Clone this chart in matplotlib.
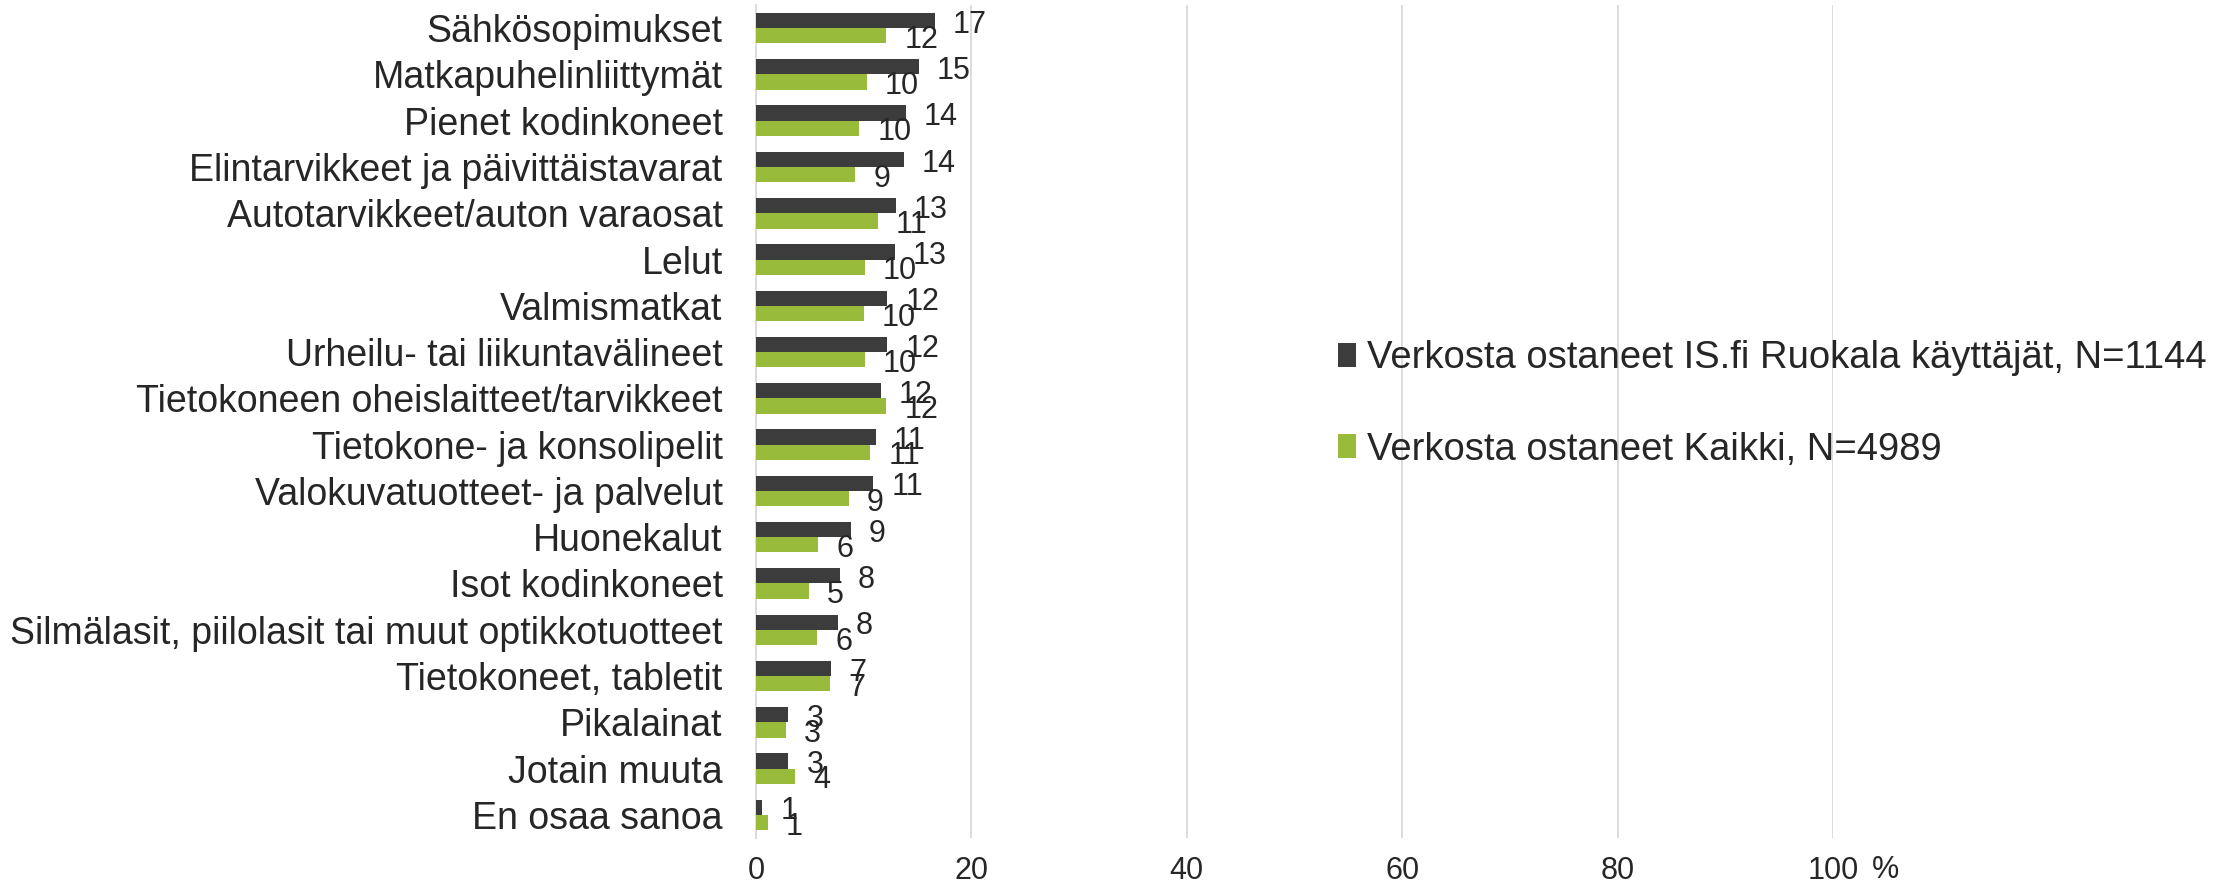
import numpy as np
import matplotlib.pyplot as plt

plt.rcParams['font.family'] = ['Liberation Sans', 'DejaVu Sans']

# Categories and shares (%)
categories = [
    "Sähkösopimukset", "Matkapuhelinliittymät", "Pienet kodinkoneet",
    "Elintarvikkeet ja päivittäistavarat", "Autotarvikkeet/auton varaosat",
    "Lelut", "Valmismatkat", "Urheilu- tai liikuntavälineet",
    "Tietokoneen oheislaitteet/tarvikkeet", "Tietokone- ja konsolipelit",
    "Valokuvatuotteet- ja palvelut", "Huonekalut", "Isot kodinkoneet",
    "Silmälasit, piilolasit tai muut optikkotuotteet", "Tietokoneet, tabletit",
    "Pikalainat", "Jotain muuta", "En osaa sanoa",
]
ruokala = [16.6, 15.1, 13.9, 13.7, 13.0, 12.9, 12.2, 12.2, 11.6, 11.1,
           10.9, 8.8, 7.8, 7.6, 7.0, 3.0, 3.0, 0.6]
kaikki = [12.1, 10.3, 9.6, 9.2, 11.3, 10.1, 10.0, 10.1, 12.1, 10.6,
          8.6, 5.8, 4.9, 5.7, 6.9, 2.8, 3.6, 1.1]
series_names = ["Verkosta ostaneet IS.fi Ruokala käyttäjät, N=1144",
                "Verkosta ostaneet Kaikki, N=4989"]
xticks = [0, 20, 40, 60, 80, 100]

dark = '#3c3c3c'
green = '#99bb3b'
text_col = '#262626'

fig = plt.figure(figsize=(22.19, 8.92), dpi=100)
ax = fig.add_axes([0.3407, 0.0605, 0.826 - 0.3407, 0.9339])

y = np.arange(len(categories))
h = 0.33
b1 = ax.barh(y - h / 2, ruokala, height=h, color=dark, label=series_names[0], zorder=3)
b2 = ax.barh(y + h / 2, kaikki, height=h, color=green, label=series_names[1], zorder=3)

# value labels just outside the bar ends
for bars, vals in [(b1, ruokala), (b2, kaikki)]:
    for bar, v in zip(bars, vals):
        ax.annotate(f"{v:.0f}", (v, bar.get_y() + bar.get_height() / 2),
                    xytext=(13, -3), textcoords='offset points',
                    ha='left', va='center', fontsize=22, color=text_col, zorder=4)

ax.set_xlim(0, 100)
ax.set_ylim(len(categories) - 0.5, -0.5)
ax.set_xticks(xticks)
ax.set_xticklabels([str(t) for t in xticks])
ax.set_yticks(y)
ax.set_yticklabels(categories, fontsize=27)
ax.tick_params(axis='both', length=0, labelcolor=text_col)
ax.tick_params(axis='x', labelsize=22, pad=13)
ax.tick_params(axis='y', pad=24)
ax.annotate("%", (100, 0), xycoords=ax.get_xaxis_transform(),
            xytext=(28, -23), textcoords='offset points',
            ha='left', va='center', fontsize=22, color=text_col)

ax.grid(axis='x', color='#d9d9d9', linewidth=1.3, zorder=0)
for s in ['top', 'right', 'bottom']:
    ax.spines[s].set_visible(False)
ax.spines['left'].set_color('#d9d9d9')
ax.spines['left'].set_linewidth(1.3)

fig.legend(handles=[b1, b2], labels=series_names, loc='upper left',
           bbox_to_anchor=(1304 / 2219, 1 - 306 / 892), frameon=False,
           fontsize=27.5, labelcolor=text_col, handlelength=0.45, handleheight=0.6,
           handletextpad=0.3, labelspacing=1.45)

fig.savefig('out.png', dpi=100)
